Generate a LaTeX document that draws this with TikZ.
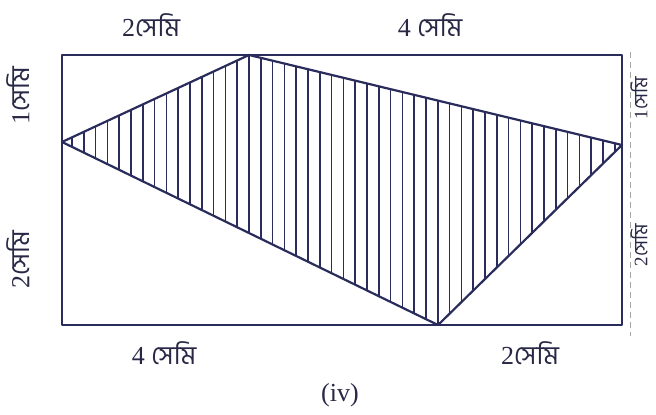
\documentclass[tikz,border=0pt]{standalone}
\usepackage{fontspec}
\setmainfont{Liberation Serif}
\newfontfamily\bnfont[Script=Bengali]{Hind Siliguri}
\definecolor{ink}{RGB}{42,44,92}
\definecolor{txt}{RGB}{40,40,70}
\newcommand{\semi}{{\bnfont সেমি}}
\begin{document}
\begin{tikzpicture}[x=1pt,y=-1pt,
  frame/.style={draw=ink,line width=2.2pt,line join=round},
  hatch/.style={draw=ink,line width=1.6pt},
  lbl/.style={text=txt,font=\fontsize{26}{30}\selectfont,inner sep=0pt},
  rlbl/.style={text=txt,font=\fontsize{19}{23}\selectfont,inner sep=0pt,rotate=90},
  guide/.style={draw=gray!70,line width=0.8pt,dash pattern=on 6pt off 4pt}]
\useasboundingbox (0,0) rectangle (656,415);
\coordinate (TL) at (62,55);
\coordinate (TR) at (622,55);
\coordinate (BR) at (622,325);
\coordinate (BL) at (62,325);
\coordinate (T) at (249,55);
\coordinate (R) at (622,145);
\coordinate (B) at (438,325);
\coordinate (L) at (62,142);
\coordinate (G1) at (630,52);
\coordinate (G2) at (630,336);
\begin{scope}
  \clip (L) -- (T) -- (R) -- (B) -- cycle;
  \foreach \k in {-16,...,32}
    \draw[hatch] ({249+\k*11.8},45) -- ++(0,290);
\end{scope}
\draw[frame] (TL) -- (TR) -- (BR) -- (BL) -- cycle;
\draw[frame] (L) -- (T) -- (R) -- (B) -- cycle;
\draw[guide] (G1) -- (G2);
\node[lbl] (t1) at (151,25) {2\semi};
\node[lbl] (t2) at (430,25) {4 \semi};
\node[lbl] (b1) at (164,353) {4 \semi};
\node[lbl] (b2) at (530,353) {2\semi};
\node[lbl,rotate=90] (l1) at (18,96) {1\semi};
\node[lbl,rotate=90] (l2) at (18,260) {2\semi};
\node[rlbl] (r1) at (639,98) {1\semi};
\node[rlbl] (r2) at (639,245) {2\semi};
\node[lbl] (cap) at (340,395) {(iv)};
\end{tikzpicture}
\end{document}
